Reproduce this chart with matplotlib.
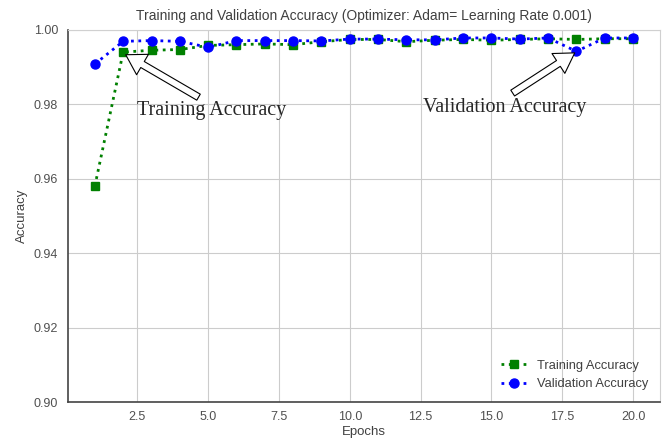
import matplotlib.pyplot as plt
import seaborn as sns

sns.set_style("whitegrid")
plt.rcParams['font.family'] = ['Liberation Sans', 'DejaVu Sans']

epochs = list(range(1, 21))
train_acc = [0.9580, 0.9940, 0.9945, 0.9947, 0.9958, 0.9960, 0.9962, 0.9960, 0.9968, 0.9974,
             0.9974, 0.9968, 0.9972, 0.9974, 0.9972, 0.9974, 0.9976, 0.9974, 0.9976, 0.9976]
val_acc = [0.9908, 0.9969, 0.9971, 0.9969, 0.9953, 0.9971, 0.9971, 0.9971, 0.9970, 0.9975,
           0.9975, 0.9973, 0.9973, 0.9978, 0.9978, 0.9975, 0.9978, 0.9942, 0.9978, 0.9978]

fig = plt.figure(figsize=(6.66, 4.38), dpi=100)
ax = fig.add_axes([0.102, 0.082, 0.889, 0.850])

ax.plot(epochs, train_acc, color='green', linestyle=':', linewidth=2,
        marker='s', markersize=5.5, label='Training Accuracy')
ax.plot(epochs, val_acc, color='blue', linestyle=':', linewidth=2,
        marker='o', markersize=6.5, label='Validation Accuracy')

ax.set_ylim(0.90, 1.00)
ax.set_title('Training and Validation Accuracy (Optimizer: Adam= Learning Rate 0.001)',
             fontsize=10, color='#404040', pad=7)
ax.set_xlabel('Epochs', fontsize=9.5, color='#404040', labelpad=2)
ax.set_ylabel('Accuracy', fontsize=9.5, color='#404040')
ax.tick_params(labelsize=9, colors='#505050')
ax.tick_params(axis='x', pad=3)

for side in ['left', 'bottom']:
    ax.spines[side].set_color('#444444')
    ax.spines[side].set_linewidth(1.2)
for side in ['top', 'right']:
    ax.spines[side].set_color('#d0d0d0')

# annotation arrows
arrow = dict(facecolor='white', edgecolor='black', width=5, headwidth=17,
             headlength=14, shrink=0.0, linewidth=0.8)
ax.annotate('', xy=(2.09, 0.9933), xytext=(4.66, 0.9819), arrowprops=arrow)
ax.annotate('', xy=(17.94, 0.9938), xytext=(15.75, 0.9830), arrowprops=arrow)
ax.text(2.5, 0.9782, 'Training Accuracy', family='Liberation Serif', fontsize=14.5,
        va='center', ha='left')
ax.text(15.47, 0.9792, 'Validation Accuracy', family='Liberation Serif', fontsize=14.5,
        va='center', ha='center')

leg = ax.legend(loc='lower right', frameon=False, fontsize=9.3, labelspacing=0.5)
for t in leg.get_texts():
    t.set_color('#404040')

fig.savefig('out.png', dpi=100)
